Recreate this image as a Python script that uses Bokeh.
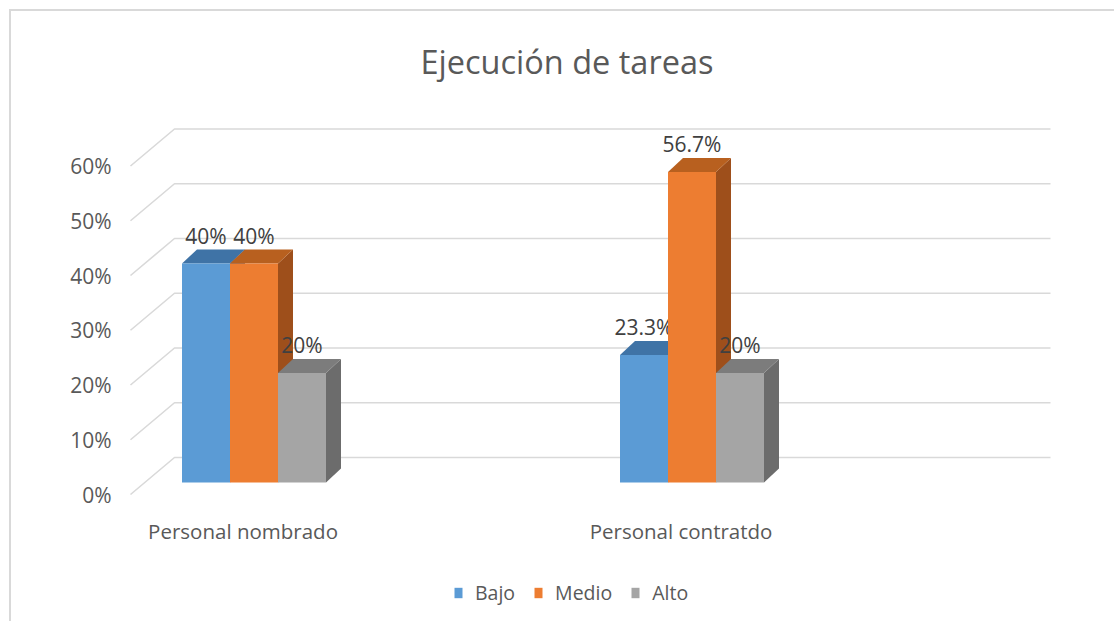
from bokeh.plotting import figure
from bokeh.models import (Range1d, LinearAxis, FixedTicker, Legend, LegendItem,
                          ColumnDataSource, Title)
from bokeh.core.properties import value
from bokeh.embed import file_html
from bokeh.resources import INLINE

# ---------------- data ----------------
categories = ["Personal nombrado", "Personal contratdo"]
series = ["Bajo", "Medio", "Alto"]
bajo = [40.0, 23.3]
medio = [40.0, 56.7]
alto = [20.0, 20.0]
bajo_labels = ["40%", "23.3%"]
medio_labels = ["40%", "56.7%"]
alto_labels = ["20%", "20%"]
y_ticks = [0, 10, 20, 30, 40, 50, 60]
y_tick_labels = ["0%", "10%", "20%", "30%", "40%", "50%", "60%"]

values = [bajo, medio, alto]
labels = [bajo_labels, medio_labels, alto_labels]

# ---------------- style / geometry ----------------
FONT = "Open Sans"
TXT = "#595959"
front_cols = ["#5b9bd5", "#ed7d31", "#a5a5a5"]
top_cols = ["#3f73a6", "#b8601f", "#7c7c7c"]
side_cols = ["#3a6796", "#9e4f1b", "#6c6c6c"]

PX_X = 438.0        # px per category unit
PX_Y = 5.475        # px per percent
ox, oy = 11, 11     # figure content origin on page (after margin + border)
W, H = 1105, 612
L, R, T, B = 120, 1100, 90, oy + H     # frame in page px
cx0 = 253.5         # page x of first category
base = 482.0        # page y of value 0 (front of bars)

x_start = (L - cx0) / PX_X
x_end = (R - cx0) / PX_X
y_start = -(B - base) / PX_Y
y_end = (base - T) / PX_Y

bw = 48.0 / PX_X          # bar width
ddx = 15.0 / PX_X         # depth offset x
ddy = 14.0 / PX_Y         # depth offset y

p = figure(width=W, height=H, output_backend="svg", toolbar_location=None,
           x_range=Range1d(x_start, x_end), y_range=Range1d(y_start, y_end),
           x_axis_location=None, y_axis_location=None,
           min_border_left=L - ox, min_border_right=ox + W - R,
           min_border_top=T - oy, min_border_bottom=0)
p.styles = {"margin-left": "9px", "margin-top": "9px",
            "border-left": "2px solid #d9d9d9", "border-top": "2px solid #d9d9d9"}
p.outline_line_color = None
p.grid.visible = False
p.background_fill_color = "white"

# front-plane range for y tick labels
front0 = 494.0
p.extra_y_ranges = {"front": Range1d(-(B - front0) / PX_Y, (front0 - T) / PX_Y)}
yax = LinearAxis(y_range_name="front", ticker=FixedTicker(ticks=y_ticks))
yax.major_label_overrides = {t: s for t, s in zip(y_ticks, y_tick_labels)}
yax.axis_line_color = None
yax.major_tick_line_color = None
yax.minor_tick_line_color = None
yax.major_label_standoff = 3
yax.major_label_text_font = FONT
yax.major_label_text_font_size = "21px"
yax.major_label_text_color = TXT
p.add_layout(yax, "left")

# gridlines (3D wall)
gx_front = (130 - cx0) / PX_X
gx_back = (174 - cx0) / PX_X
gx_right = (1050 - cx0) / PX_X
g_front = -12.0 / PX_Y
g_back = 25.0 / PX_Y
gxs = [[gx_front, gx_back, gx_right] for t in y_ticks]
gys = [[t + g_front, t + g_back, t + g_back] for t in y_ticks]
p.multi_line(gxs, gys, line_color="#d9d9d9", line_width=1.6)

# bars
legend_items = []
for si, (name, vals, labs) in enumerate(zip(series, values, labels)):
    x0 = [i + (si - 1.5) * bw for i in range(len(categories))]
    x1 = [a + bw for a in x0]
    side_xs = [[b, b + ddx, b + ddx, b] for b in x1]
    side_ys = [[0, ddy, v + ddy, v] for v in vals]
    top_xs = [[a, b, b + ddx, a + ddx] for a, b in zip(x0, x1)]
    top_ys = [[v, v, v + ddy, v + ddy] for v in vals]
    p.patches(side_xs, side_ys, fill_color=side_cols[si], line_color=None)
    p.patches(top_xs, top_ys, fill_color=top_cols[si], line_color=None)
    src = ColumnDataSource(dict(left=x0, right=x1, top=vals, bottom=[0] * len(vals)))
    r = p.quad(left="left", right="right", top="top", bottom="bottom", source=src,
               fill_color=front_cols[si], line_color=None)
    legend_items.append(LegendItem(label=name, renderers=[r]))
    lsrc = ColumnDataSource(dict(x=[(a + b) / 2 for a, b in zip(x0, x1)],
                                 y=[v + ddy for v in vals], t=labs))
    p.text(x="x", y="y", text="t", source=lsrc, text_align="center",
           text_baseline="bottom", y_offset=0, text_font=value(FONT),
           text_font_size="21px", text_color="#404040")

# category labels under the floor
cat_shift = -0.025
cat_y = -(530 - base) / PX_Y
csrc = ColumnDataSource(dict(x=[i + cat_shift for i in range(len(categories))],
                             y=[cat_y] * len(categories), t=categories))
p.text(x="x", y="y", text="t", source=csrc, text_align="center",
       text_baseline="middle", text_font=value(FONT), text_font_size="20.5px",
       text_color=TXT)

legend = Legend(items=legend_items, orientation="horizontal", location=(333, 17),
                padding=0, margin=0, spacing=18, glyph_width=10, glyph_height=13,
                label_standoff=12, label_text_font=FONT, label_text_font_size="19.5px",
                label_text_color=TXT, border_line_color=None, background_fill_alpha=0)
p.add_layout(legend)

title = Title(text="Ejecución de tareas", align="left", offset=300, standoff=13,
              text_font=FONT, text_font_size="32.5px", text_font_style="normal",
              text_color=TXT)
p.add_layout(title, "above")

open("out.html", "w").write(file_html(p, INLINE))
